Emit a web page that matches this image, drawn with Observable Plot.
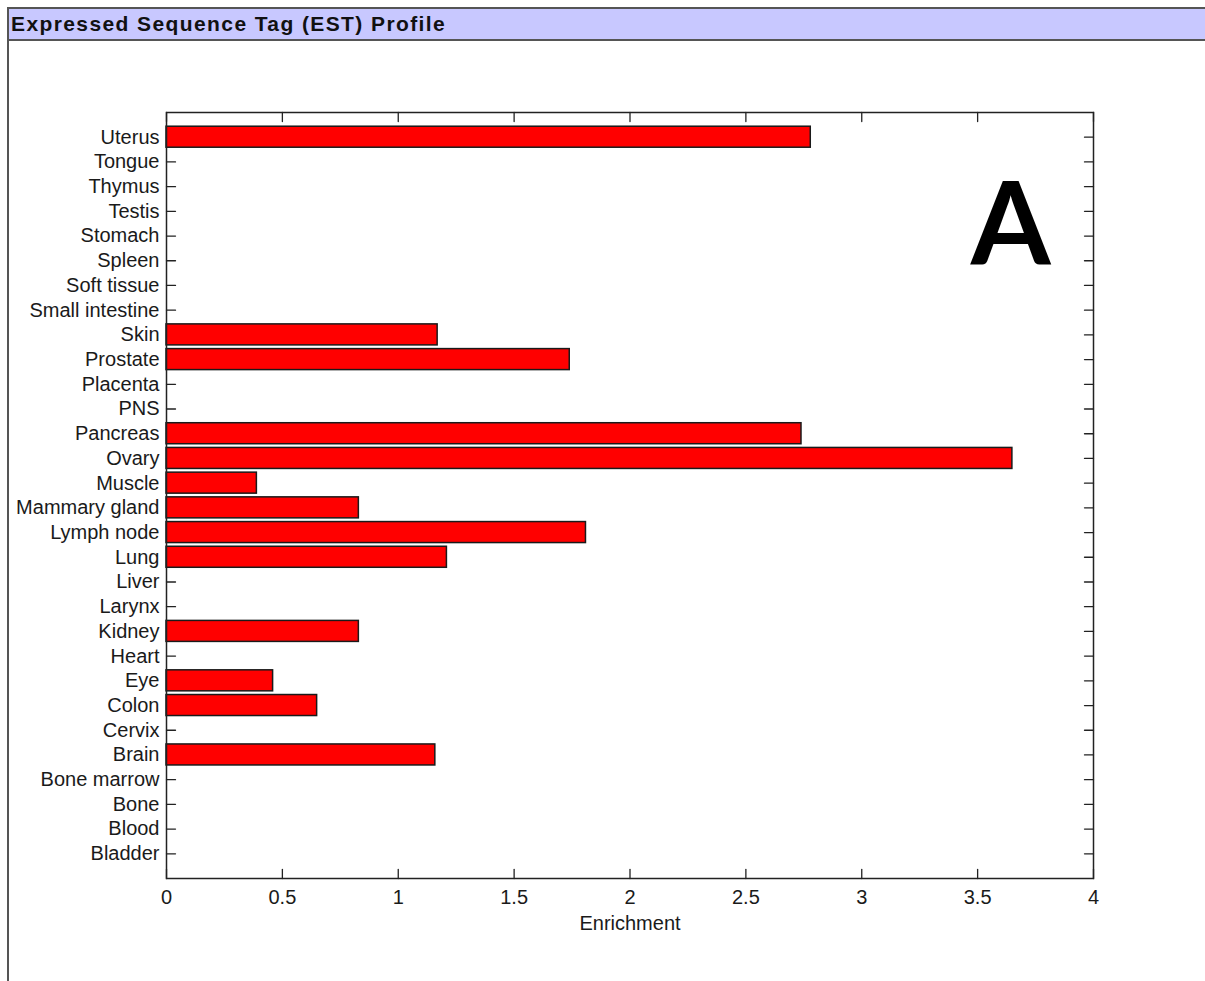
<!DOCTYPE html>
<html>
<head>
<meta charset="utf-8">
<script src="https://cdn.jsdelivr.net/npm/d3@7"></script>
<script src="https://cdn.jsdelivr.net/npm/@observablehq/plot@0.6"></script>
<style>
  html, body { margin: 0; padding: 0; background: #fff; }
  #page { position: relative; width: 1205px; height: 981px; overflow: hidden; }
  #chart { position: absolute; left: 0; top: 0; }
  #header {
    position: absolute; left: 7px; top: 7px; right: 0; height: 30px;
    background: #c8c8ff; border-top: 2px solid #555; border-bottom: 2px solid #555;
    font: bold 21px "Liberation Sans", Arial, sans-serif; letter-spacing: 1.4px; color: #111;
    padding-left: 4px; line-height: 30px; white-space: nowrap;
  }
  #rule { position: absolute; left: 7px; top: 7px; width: 2px; bottom: 0; background: #555; }
</style>
</head>
<body>
<div id="page">
  <div id="chart"></div>
  <div id="header">Expressed Sequence Tag (EST) Profile</div>
  <div id="rule"></div>
</div>
<script>
// Tissues, top to bottom, and their EST enrichment
const tissues = [
  "Uterus", "Tongue", "Thymus", "Testis", "Stomach", "Spleen", "Soft tissue",
  "Small intestine", "Skin", "Prostate", "Placenta", "PNS", "Pancreas", "Ovary",
  "Muscle", "Mammary gland", "Lymph node", "Lung", "Liver", "Larynx", "Kidney",
  "Heart", "Eye", "Colon", "Cervix", "Brain", "Bone marrow", "Bone", "Blood", "Bladder"
];
const enrichment = [
  2.78, 0, 0, 0, 0, 0, 0,
  0, 1.17, 1.74, 0, 0, 2.74, 3.65,
  0.39, 0.83, 1.81, 1.21, 0, 0, 0.83,
  0, 0.46, 0.65, 0, 1.16, 0, 0, 0, 0
];
const xTicks = [0, 0.5, 1, 1.5, 2, 2.5, 3, 3.5, 4];
const xLabel = "Enrichment";
const panelLetter = "A";

const rows = tissues.map((tissue, i) => ({tissue, value: enrichment[i]}));

// Short straight tick drawn inward from a frame edge
const tickShape = {draw(context, l) { context.moveTo(0, 0); context.lineTo(0, -l); }};
const tickStyle = {stroke: "#222", strokeWidth: 1.3, length: 9, anchor: "start", shape: tickShape};

const chart = Plot.plot({
  width: 1205,
  height: 981,
  marginTop: 112,
  marginBottom: 103,
  marginLeft: 166,
  marginRight: 112,
  style: {fontFamily: "'Liberation Sans', Arial, sans-serif", fontSize: "20px", color: "#1a1a1a", background: "transparent"},
  x: {domain: [0, 4]},
  y: {type: "band", domain: tissues, paddingInner: 0.15, paddingOuter: 0.575, round: false},
  marks: [
    // inward ticks on all four sides
    Plot.vector(xTicks, {x: d => d, frameAnchor: "bottom", rotate: 0, ...tickStyle}),
    Plot.vector(xTicks, {x: d => d, frameAnchor: "top", rotate: 180, ...tickStyle}),
    Plot.vector(tissues, {y: d => d, frameAnchor: "left", rotate: 90, ...tickStyle}),
    Plot.vector(tissues, {y: d => d, frameAnchor: "right", rotate: 270, ...tickStyle}),
    Plot.barX(rows.filter(d => d.value > 0), {
      x: "value", y: "tissue", fill: "#ff0000", stroke: "#1a1a1a", strokeWidth: 1.5
    }),
    Plot.frame({stroke: "#222", strokeWidth: 1.5}),
    Plot.axisY({anchor: "left", tickSize: 0, tickPadding: 7, fontSize: 20, label: null}),
    Plot.axisX({anchor: "bottom", ticks: xTicks, tickSize: 0, tickPadding: 11, fontSize: 20, label: null, tickFormat: d => String(d)}),
    Plot.text([xLabel], {text: d => d, frameAnchor: "bottom", dy: 45, lineAnchor: "middle", fontSize: 20}),
    Plot.text([panelLetter], {
      text: d => d, frameAnchor: "top-right", dx: -43, dy: 71, lineAnchor: "top", textAnchor: "end",
      fontSize: 115, fontWeight: 700, fontFamily: "Lato, 'Open Sans', sans-serif", fill: "#000"
    })
  ]
});
document.getElementById("chart").appendChild(chart);
</script>
</body>
</html>
